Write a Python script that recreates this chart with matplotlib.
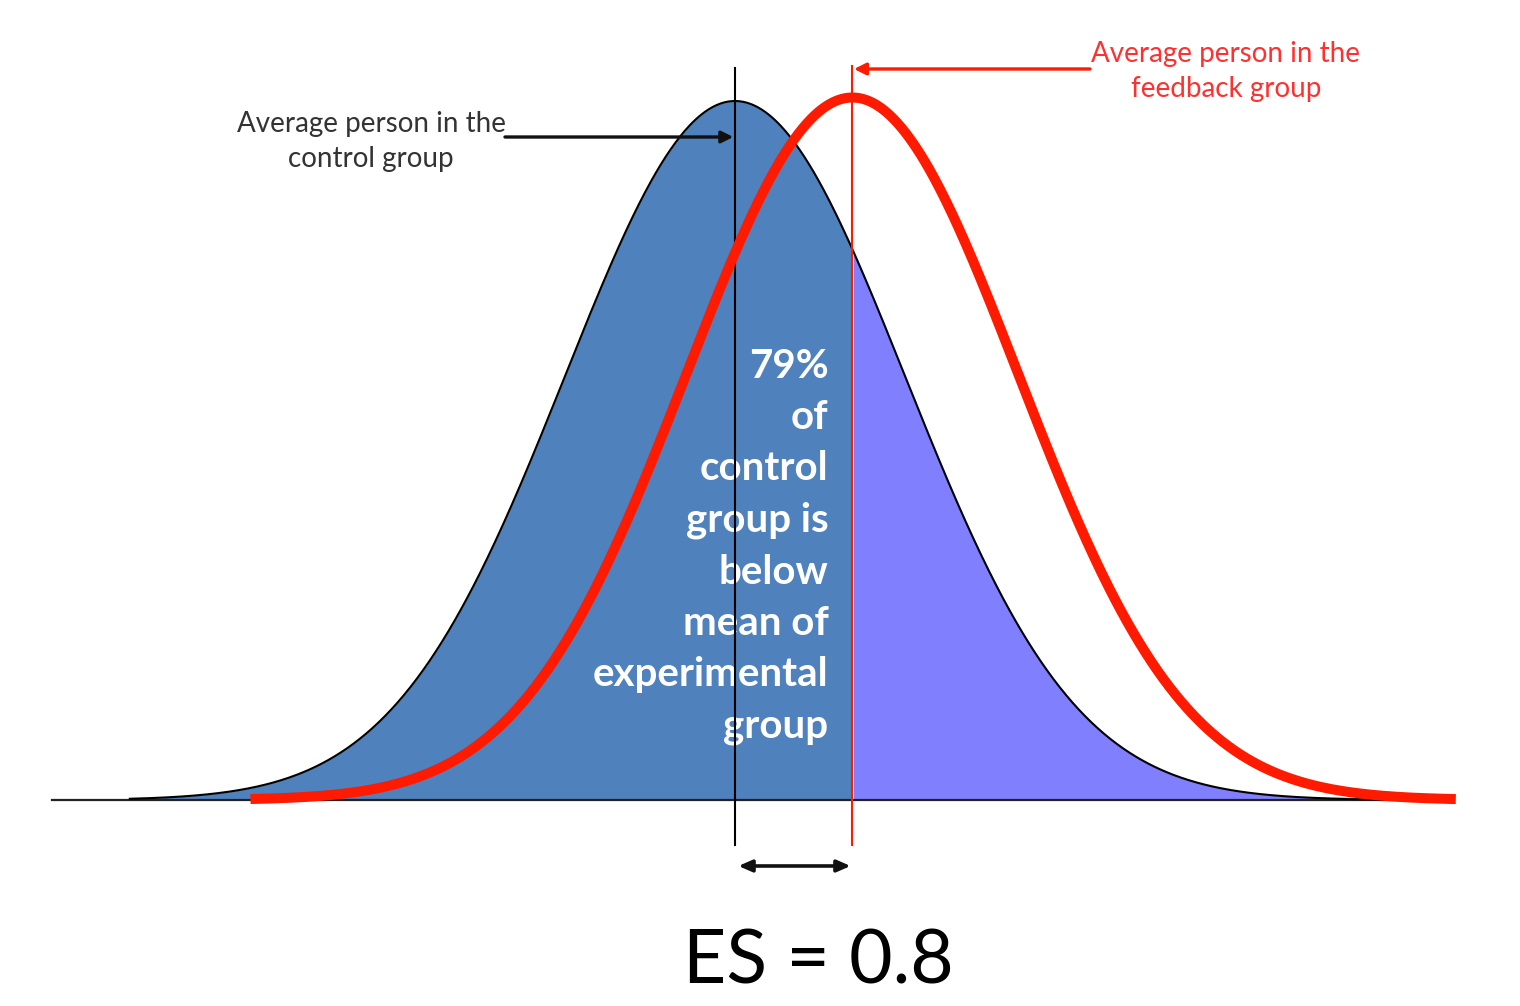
import matplotlib.pyplot as plt
import numpy as np

# curve parameters (x in control-SD units, y relative to peak)
group_names = ["control", "feedback"]
group_means = [0.0, 0.69]
group_sds = [1.0, 0.976]
group_peaks = [1.0, 1.005]
group_ranges = [(-3.56, 3.85), (-2.85, 4.24)]
baseline_range = (-4.02, 3.88)

effect_size = 0.8
pct_below = 79

control_label = "Average person in the\ncontrol group"
feedback_label = "Average person in the\nfeedback group"
middle_label = f"{pct_below}%\nof\ncontrol\ngroup is\nbelow\nmean of\nexperimental\ngroup"
es_label = f"ES = {effect_size}"

BLUE = "#4f81bd"
PURPLE = "#8080ff"
RED = "#ff1a00"


def bell(x, mean, sd, peak):
    return peak * np.exp(-0.5 * ((x - mean) / sd) ** 2)


def run() -> None:
    plt.rcParams["font.family"] = ["Lato", "DejaVu Sans"]
    fig = plt.figure(figsize=(15.2, 10.06), dpi=100)
    ax = fig.add_axes([0, 0, 1, 1])
    ax.set_xlim(-4.3235, 4.6176)
    ax.set_ylim(-0.2947, 1.1445)
    ax.axis("off")

    c_mean, f_mean = group_means
    c_sd, f_sd = group_sds
    c_peak, f_peak = group_peaks

    xc = np.linspace(*group_ranges[0], 800)
    yc = bell(xc, c_mean, c_sd, c_peak)
    left = xc <= f_mean
    right = xc >= f_mean
    ax.fill_between(xc[left], 0, yc[left], color=BLUE, lw=0, zorder=1)
    ax.fill_between(xc[right], 0, yc[right], color=PURPLE, lw=0, zorder=1)
    ax.plot(baseline_range, [0, 0], color="#222222", lw=1.6, zorder=2)
    ax.plot(xc, yc, color="black", lw=1.5, zorder=2)

    ax.text(f_mean - 0.14, 0.3627, middle_label, color="white", fontsize=29,
            fontweight="bold", ha="right", va="center", linespacing=1.48, zorder=3)

    ax.plot([c_mean, c_mean], [-0.064, 1.047], color="black", lw=1.5, zorder=4)
    ax.plot([f_mean, f_mean], [-0.064, 1.05], color=RED, lw=1.5, zorder=4)

    xf = np.linspace(*group_ranges[1], 800)
    ax.plot(xf, bell(xf, f_mean, f_sd, f_peak), color=RED, lw=7.2,
            solid_capstyle="butt", zorder=5)

    # annotations
    ax.annotate("", xy=(c_mean - 0.01, 0.9485), xytext=(-1.353, 0.9485),
                arrowprops=dict(arrowstyle="-|>,head_length=0.7,head_width=0.35",
                                color="#111111", lw=2.4, shrinkA=0, shrinkB=0), zorder=6)
    ax.text(-2.141, 0.942, control_label, color="#333333", fontsize=20,
            ha="center", va="center", linespacing=1.45, zorder=6)

    ax.annotate("", xy=(f_mean + 0.01, 1.0458), xytext=(2.088, 1.0458),
                arrowprops=dict(arrowstyle="-|>,head_length=0.7,head_width=0.35",
                                color=RED, lw=2.4, shrinkA=0, shrinkB=0), zorder=6)
    ax.text(2.888, 1.0422, feedback_label, color="#ff3030", fontsize=20,
            ha="center", va="center", linespacing=1.45, zorder=6)

    ax.annotate("", xy=(f_mean - 0.01, -0.0944), xytext=(c_mean + 0.02, -0.0944),
                arrowprops=dict(arrowstyle="<|-|>,head_length=0.8,head_width=0.35",
                                color="#111111", lw=2.6, shrinkA=0, shrinkB=0), zorder=6)
    ax.text(0.489, -0.2317, es_label, color="black", fontsize=54,
            ha="center", va="center", zorder=6)

    fig.savefig("out.png", dpi=100, facecolor="white")
    plt.close(fig)


if __name__ == "__main__":
    run()
